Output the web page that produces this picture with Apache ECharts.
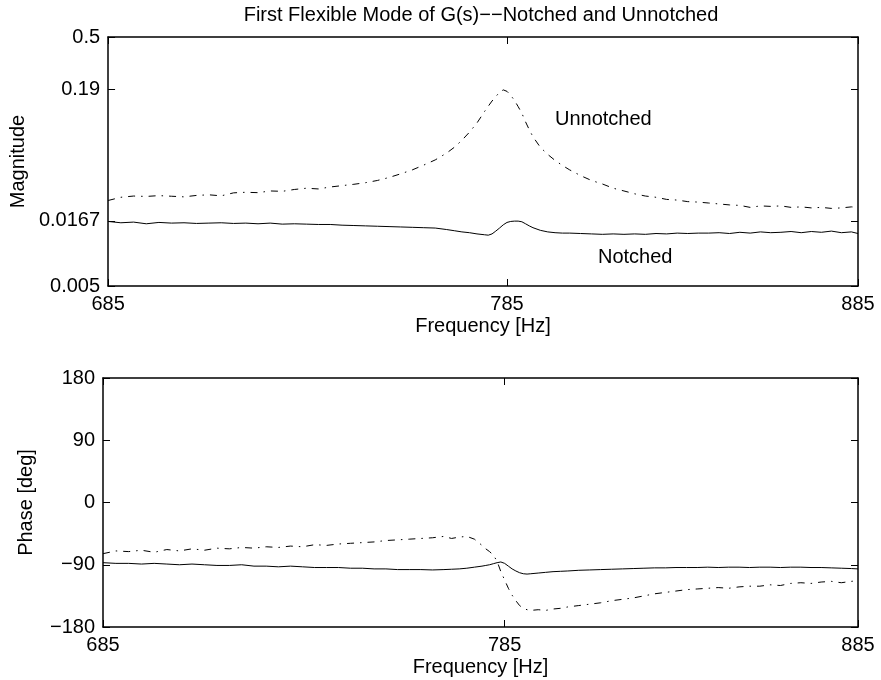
<!DOCTYPE html>
<html><head><meta charset="utf-8">
<script src="https://cdn.jsdelivr.net/npm/echarts@6/dist/echarts.min.js"></script>
<style>html,body{margin:0;padding:0;background:#fff}#c{width:881px;height:680px}</style>
</head><body><div id="c"></div>
<script>
const freq = [685, 688, 691, 694, 697, 700, 703, 706, 709, 712,
  715, 718, 721, 724, 727, 730, 733, 736, 739, 742,
  745, 748, 751, 754, 757, 760, 763, 766, 769, 771,
  773, 775, 777, 779, 780, 781, 782, 783, 784, 785,
  786, 787, 788, 789, 790, 791, 792, 794, 796, 798,
  800, 802, 805, 808, 811, 814, 817, 820, 823, 826,
  829, 832, 835, 838, 841, 844, 847, 850, 853, 856,
  859, 862, 865, 868, 871, 874, 877, 880, 883, 885];

const magUnnotched = [0.0243, 0.0258, 0.0264, 0.0262, 0.0266, 0.0263, 0.0260, 0.0267, 0.0270, 0.0265,
  0.0280, 0.0283, 0.0281, 0.0290, 0.0288, 0.0298, 0.0305, 0.0301, 0.0312, 0.0320,
  0.0328, 0.0338, 0.0352, 0.0372, 0.0398, 0.0428, 0.0468, 0.0515, 0.0585, 0.0650,
  0.0740, 0.0860, 0.1020, 0.1260, 0.1390, 0.1530, 0.1660, 0.1800, 0.1880, 0.1830,
  0.1700, 0.1550, 0.1380, 0.1220, 0.1040, 0.0900, 0.0790, 0.0650, 0.0570, 0.0510,
  0.0465, 0.0428, 0.0385, 0.0352, 0.0330, 0.0305, 0.0290, 0.0275, 0.0264, 0.0258,
  0.0248, 0.0245, 0.0238, 0.0236, 0.0232, 0.0228, 0.0224, 0.0222, 0.0214, 0.0220,
  0.0218, 0.0220, 0.0214, 0.0216, 0.0212, 0.0214, 0.0210, 0.0212, 0.0216, 0.0214];

const magNotched = [0.0165, 0.0161, 0.0163, 0.0158, 0.0162, 0.0160, 0.0161, 0.0159, 0.0160, 0.0161,
  0.0159, 0.0160, 0.0158, 0.0160, 0.0157, 0.0158, 0.0157, 0.0156, 0.0156, 0.0154,
  0.0153, 0.0152, 0.0151, 0.0150, 0.0149, 0.0148, 0.0147, 0.0146, 0.0142, 0.0139,
  0.0136, 0.0134, 0.0131, 0.0129, 0.0128, 0.0131, 0.0138, 0.0146, 0.0155, 0.0162,
  0.0165, 0.0166, 0.0166, 0.0164, 0.0158, 0.0152, 0.0147, 0.0140, 0.0136, 0.0134,
  0.0133, 0.0133, 0.0132, 0.0131, 0.0130, 0.0131, 0.0130, 0.0131, 0.0130, 0.0132,
  0.0131, 0.0133, 0.0132, 0.0133, 0.0133, 0.0134, 0.0132, 0.0135, 0.0133, 0.0136,
  0.0134, 0.0135, 0.0137, 0.0134, 0.0137, 0.0135, 0.0138, 0.0134, 0.0136, 0.0132];

const phaseUnnotched = [-74, -70, -71, -69, -72, -68, -70, -67, -69, -66,
  -67, -65, -66, -64, -65, -63, -64, -61, -62, -60,
  -59, -58, -57, -55, -54, -53, -52, -51, -49, -52,
  -50, -49, -53, -62, -67, -71, -76, -85, -100, -112,
  -124, -134, -142, -149, -153, -155, -156, -155, -156, -154,
  -153, -151, -149, -147, -145, -142, -140, -138, -135, -132,
  -130, -128, -126, -125, -124, -123, -124, -122, -121, -121,
  -119, -120, -117, -116, -117, -115, -114, -116, -114, -113];

const phaseNotched = [-87, -88, -88, -89, -88, -89, -90, -89, -90, -91,
  -91, -90, -92, -92, -93, -92, -93, -94, -94, -94,
  -95, -95, -96, -96, -97, -97, -97, -97.5, -97, -96.5,
  -96, -95, -93.5, -92, -91, -90, -88.5, -87, -86, -88,
  -92, -96, -99, -101.5, -103, -103.5, -103, -102, -101, -100,
  -99.5, -99, -98, -97.5, -97, -96.5, -96, -95.5, -95, -94.5,
  -94.5, -94, -94, -94, -93.5, -94, -93.5, -93.5, -94, -93.5,
  -93.5, -94, -93.5, -93.5, -94, -94, -94.5, -95, -95.5, -96];

const freqTicks = [685, 785, 885];
const magTicks = [0.005, 0.0167, 0.19, 0.5];
const magTickLabels = ['0.005', '0.0167', '0.19', '0.5'];
const phaseTicks = [-180, -90, 0, 90, 180];
const phaseTickLabels = ['\u2212180', '\u221290', '0', '90', '180'];

const titleText = 'First Flexible Mode of G(s)\u2212\u2212Notched and Unnotched';
const FONT = "'Liberation Sans', Arial, Helvetica, sans-serif";
const FS = 20;

function nearestLabel(v, ticks, labels) {
  let best = 0, bd = Infinity;
  for (let i = 0; i < ticks.length; i++) {
    const d = Math.abs(Math.log(v) - Math.log(ticks[i]));
    if (d < bd) { bd = d; best = i; }
  }
  return labels[best];
}

const axisLineStyle = { show: true, onZero: false, lineStyle: { color: '#000', width: 1.5 } };
const tickStyle = { show: true, inside: true, length: 7, lineStyle: { color: '#000', width: 1 } };
const labelStyle = { color: '#000', fontSize: FS, fontFamily: FONT, margin: 8 };

function freqAxis(gridIndex, position, showLabel) {
  return {
    type: 'log', logBase: 10, gridIndex, position, min: 685, max: 885,
    axisLine: axisLineStyle,
    axisTick: Object.assign({}, tickStyle, { customValues: freqTicks }),
    axisLabel: Object.assign({}, labelStyle, {
      show: showLabel, customValues: freqTicks,
      formatter: v => String(Math.round(v))
    }),
    splitLine: { show: false }, minorTick: { show: false },
    name: showLabel ? 'Frequency [Hz]' : '',
    nameLocation: 'middle', nameGap: 30,
    nameTextStyle: { color: '#000', fontSize: FS, fontFamily: FONT }
  };
}
function magAxis(position, showLabel) {
  return {
    type: 'log', logBase: 10, gridIndex: 0, position, min: 0.005, max: 0.5,
    axisLine: axisLineStyle,
    axisTick: Object.assign({}, tickStyle, { customValues: magTicks }),
    axisLabel: Object.assign({}, labelStyle, {
      show: showLabel, customValues: magTicks,
      formatter: v => nearestLabel(v, magTicks, magTickLabels)
    }),
    splitLine: { show: false }, minorTick: { show: false },
    name: showLabel ? 'Magnitude' : '',
    nameLocation: 'middle', nameGap: 67,
    nameTextStyle: { color: '#000', fontSize: FS, fontFamily: FONT }
  };
}
function phaseAxis(position, showLabel) {
  return {
    type: 'value', gridIndex: 1, position, min: -180, max: 180, interval: 90,
    axisLine: axisLineStyle,
    axisTick: tickStyle,
    axisLabel: Object.assign({}, labelStyle, {
      show: showLabel,
      formatter: v => phaseTickLabels[phaseTicks.indexOf(Math.round(v))]
    }),
    splitLine: { show: false },
    name: showLabel ? 'Phase [deg]' : '',
    nameLocation: 'middle', nameGap: 67,
    nameTextStyle: { color: '#000', fontSize: FS, fontFamily: FONT }
  };
}

const solid = { color: '#000', width: 1, type: 'solid' };
const dashDot = { color: '#000', width: 1, type: [7, 6, 1.5, 6] };

function lineSeries(name, xi, yi, ys, style) {
  return {
    type: 'line', name, xAxisIndex: xi, yAxisIndex: yi,
    data: freq.map((f, i) => [f, ys[i]]),
    showSymbol: false, symbol: 'none', lineStyle: style,
    clip: true, silent: true, animation: false
  };
}

const chart = echarts.init(document.getElementById('c'), null, { renderer: 'canvas' });
chart.setOption({
  backgroundColor: '#fff',
  animation: false,
  textStyle: { fontFamily: FONT },
  title: {
    text: titleText, left: 481, top: 5, padding: 0, textAlign: 'center',
    textStyle: { color: '#000', fontSize: FS, fontWeight: 'normal', fontFamily: FONT }
  },
  grid: [
    { left: 103, right: 23, top: 37, height: 249, containLabel: false },
    { left: 103, right: 23, top: 378, height: 249, containLabel: false }
  ],
  xAxis: [
    freqAxis(0, 'bottom', true), freqAxis(0, 'top', false),
    freqAxis(1, 'bottom', true), freqAxis(1, 'top', false)
  ],
  yAxis: [
    magAxis('left', true), magAxis('right', false),
    phaseAxis('left', true), phaseAxis('right', false)
  ],
  series: [
    lineSeries('Unnotched', 0, 0, magUnnotched, dashDot),
    lineSeries('Notched', 0, 0, magNotched, solid),
    lineSeries('Unnotched phase', 2, 2, phaseUnnotched, dashDot),
    lineSeries('Notched phase', 2, 2, phaseNotched, solid)
  ],
  graphic: [
    { type: 'text', left: 555, top: 109, silent: true,
      style: { text: 'Unnotched', fill: '#000', font: FS + 'px ' + FONT } },
    { type: 'text', left: 598, top: 247, silent: true,
      style: { text: 'Notched', fill: '#000', font: FS + 'px ' + FONT } }
  ]
});
</script>
</body></html>
